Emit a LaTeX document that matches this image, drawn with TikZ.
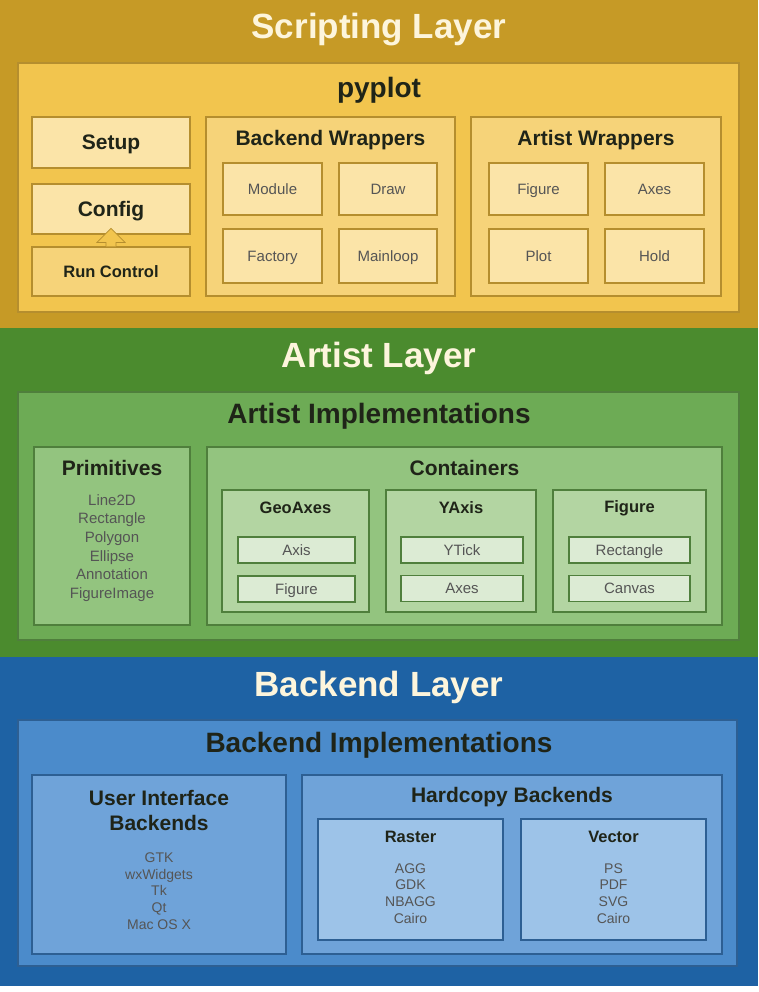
\documentclass[tikz,border=0pt]{standalone}
\usepackage{fontspec}
\setmainfont{Liberation Sans}
\usepackage{xcolor}
\usepackage{tikz}

% layer colours
\definecolor{scriptdark}{HTML}{C69A26}
\definecolor{pyfill}{HTML}{F2C54E}
\definecolor{wrapfill}{HTML}{F6D379}
\definecolor{scriptpale}{HTML}{FBE4A8}
\definecolor{scriptline}{HTML}{B58E2E}
\definecolor{artistdark}{HTML}{4B8B2E}
\definecolor{implfill}{HTML}{6DAB55}
\definecolor{groupfill}{HTML}{93C47F}
\definecolor{contfill}{HTML}{B3D5A2}
\definecolor{artistpale}{HTML}{DCEBD4}
\definecolor{artistline}{HTML}{4F7F3C}
\definecolor{backdark}{HTML}{1E62A4}
\definecolor{bimplfill}{HTML}{4B8BCB}
\definecolor{uifill}{HTML}{6FA3D9}
\definecolor{rasterfill}{HTML}{9DC3E8}
\definecolor{backline}{HTML}{2D5F93}
\definecolor{titlecream}{HTML}{FDF5DC}
\definecolor{darktext}{HTML}{1F2418}
\definecolor{itemgray}{HTML}{555555}

\tikzset{
  box/.style={draw, line width=1.2pt, inner sep=0pt, align=center},
  cell/.style={text height=#1, text depth=0pt},
  layertitle/.style={font=\fontsize{35}{40}\selectfont\bfseries, text=titlecream},
  subtitle/.style={font=\fontsize{28}{32}\selectfont\bfseries, text=darktext},
  grouptitle/.style={font=\fontsize{21}{25}\selectfont\bfseries, text=darktext, align=center},
  smalltitle/.style={font=\fontsize{16.5}{20}\selectfont\bfseries, text=darktext},
  item/.style={font=\fontsize{15}{18.6}\selectfont, text=itemgray, align=center},
  backitem/.style={font=\fontsize{14}{16.7}\selectfont, text=itemgray, align=center},
  hollowarrow/.style={draw=scriptline, line width=0.8pt, fill=pyfill}
}

\begin{document}
\begin{tikzpicture}[x=1pt,y=-1pt]
\useasboundingbox (0,0) rectangle (758,992);
\fill[white] (0,0) rectangle (758,992);

% Scripting layer
\fill[scriptdark] (0,0) rectangle (758,328);
\node[layertitle] (scripttitle) at (379,30) {Scripting Layer};
\node[box, draw=scriptline, fill=pyfill, minimum width=721pt, minimum height=249pt] (pyplot) at (378.5,187.5) {};
\node[subtitle] (pyplottitle) at (379,90) {pyplot};
\node[box, draw=scriptline, fill=scriptpale, minimum width=158pt, minimum height=51pt, grouptitle, cell=15pt] (setup) at (111,142.5) {Setup};
\node[box, draw=scriptline, fill=scriptpale, minimum width=158pt, minimum height=50pt, grouptitle, cell=15pt] (config) at (111,209) {Config};
\node[box, draw=scriptline, fill=wrapfill, minimum width=158pt, minimum height=49pt, smalltitle, cell=11.8pt] (run) at (111,271.5) {Run Control};
\draw[hollowarrow] ([xshift=-5pt]run.north) -- ++(0,-4) -- ++(-9,0) -- ++(14,-14) -- ++(14,14) -- ++(-9,0) -- ++(0,4);

\node[box, draw=scriptline, fill=wrapfill, minimum width=249pt, minimum height=179pt] (bwrap) at (330.5,206.5) {};
\node[grouptitle] (bwraptitle) at (330.5,140) {Backend Wrappers};
\node[box, draw=scriptline, fill=scriptpale, minimum width=99pt, minimum height=52pt, item, cell=10.7pt] (module) at (272.5,189) {Module};
\node[box, draw=scriptline, fill=scriptpale, minimum width=98pt, minimum height=52pt, item, cell=10.7pt] (draw) at (388,189) {Draw};
\node[box, draw=scriptline, fill=scriptpale, minimum width=99pt, minimum height=54pt, item, cell=10.7pt] (factory) at (272.5,256) {Factory};
\node[box, draw=scriptline, fill=scriptpale, minimum width=98pt, minimum height=54pt, item, cell=10.7pt] (mainloop) at (388,256) {Mainloop};

\node[box, draw=scriptline, fill=wrapfill, minimum width=250pt, minimum height=179pt] (awrap) at (596,206.5) {};
\node[grouptitle] (awraptitle) at (596,140) {Artist Wrappers};
\node[box, draw=scriptline, fill=scriptpale, minimum width=99pt, minimum height=52pt, item, cell=10.7pt] (figwrap) at (538.5,189) {Figure};
\node[box, draw=scriptline, fill=scriptpale, minimum width=99pt, minimum height=52pt, item, cell=10.7pt] (axeswrap) at (654.5,189) {Axes};
\node[box, draw=scriptline, fill=scriptpale, minimum width=99pt, minimum height=54pt, item, cell=10.7pt] (plot) at (538.5,256) {Plot};
\node[box, draw=scriptline, fill=scriptpale, minimum width=99pt, minimum height=54pt, item, cell=10.7pt] (hold) at (654.5,256) {Hold};

% Artist layer
\fill[artistdark] (0,328) rectangle (758,657);
\node[layertitle] (artisttitle) at (379,358) {Artist Layer};
\node[box, draw=artistline, fill=implfill, minimum width=721pt, minimum height=248pt] (aimpl) at (378.5,516) {};
\node[subtitle] (aimpltitle) at (379,416) {Artist Implementations};

\node[box, draw=artistline, fill=groupfill, minimum width=156pt, minimum height=178pt] (prim) at (112,536) {};
\node[grouptitle] (primtitle) at (112,468) {Primitives};
\node[item] (primlist) at (112,548) {Line2D\\Rectangle\\Polygon\\Ellipse\\Annotation\\FigureImage};

\node[box, draw=artistline, fill=groupfill, minimum width=515pt, minimum height=178pt] (cont) at (464.5,536) {};
\node[grouptitle] (conttitle) at (464.5,468) {Containers};

\node[box, draw=artistline, fill=contfill, minimum width=147pt, minimum height=122pt] (geo) at (295.5,551) {};
\node[smalltitle] (geotitle) at (295.5,508) {GeoAxes};
\node[box, draw=artistline, fill=artistpale, minimum width=117pt, minimum height=26pt, item, cell=10.7pt] (axis) at (296.5,550) {Axis};
\node[box, draw=artistline, fill=artistpale, minimum width=117pt, minimum height=26pt, item, cell=10.7pt] (geofig) at (296.5,589) {Figure};

\node[box, draw=artistline, fill=contfill, minimum width=150pt, minimum height=122pt] (yaxis) at (461,551) {};
\node[smalltitle] (yaxistitle) at (461,508) {YAxis};
\node[box, draw=artistline, fill=artistpale, minimum width=122pt, minimum height=26pt, item, cell=10.7pt] (ytick) at (462,550) {YTick};
\node[box, draw=artistline, fill=artistpale, minimum width=122pt, minimum height=26pt, item, cell=10.7pt] (yaxes) at (462,588.5) {Axes};

\node[box, draw=artistline, fill=contfill, minimum width=153pt, minimum height=122pt] (figcont) at (629.5,551) {};
\node[smalltitle] (figconttitle) at (629.5,508) {Figure};
\node[box, draw=artistline, fill=artistpale, minimum width=121pt, minimum height=26pt, item, cell=10.7pt] (rect) at (629.5,550) {Rectangle};
\node[box, draw=artistline, fill=artistpale, minimum width=121pt, minimum height=26pt, item, cell=10.7pt] (canvas) at (629.5,588.5) {Canvas};

% Backend layer
\fill[backdark] (0,657) rectangle (758,986);
\node[layertitle] (backtitle) at (379,687) {Backend Layer};
\node[box, draw=backline, fill=bimplfill, minimum width=719pt, minimum height=246pt] (bimpl) at (377.5,843) {};
\node[subtitle] (bimpltitle) at (379,745) {Backend Implementations};

\node[box, draw=backline, fill=uifill, minimum width=254pt, minimum height=179pt] (ui) at (159,864.5) {};
\node[grouptitle] (uititle) at (159,810) {User Interface\\Backends};
\node[backitem] (uilist) at (159,891) {GTK\\wxWidgets\\Tk\\Qt\\Mac OS X};

\node[box, draw=backline, fill=uifill, minimum width=420pt, minimum height=179pt] (hard) at (512,864.5) {};
\node[grouptitle] (hardtitle) at (512,797) {Hardcopy Backends};

\node[box, draw=backline, fill=rasterfill, minimum width=185pt, minimum height=121pt] (raster) at (410.5,879.5) {};
\node[smalltitle] (rastertitle) at (410.5,837) {Raster};
\node[backitem] (rasterlist) at (410.5,893.5) {AGG\\GDK\\NBAGG\\Cairo};

\node[box, draw=backline, fill=rasterfill, minimum width=185pt, minimum height=121pt] (vector) at (613.5,879.5) {};
\node[smalltitle] (vectortitle) at (613.5,837) {Vector};
\node[backitem] (vectorlist) at (613.5,893.5) {PS\\PDF\\SVG\\Cairo};

\end{tikzpicture}
\end{document}
